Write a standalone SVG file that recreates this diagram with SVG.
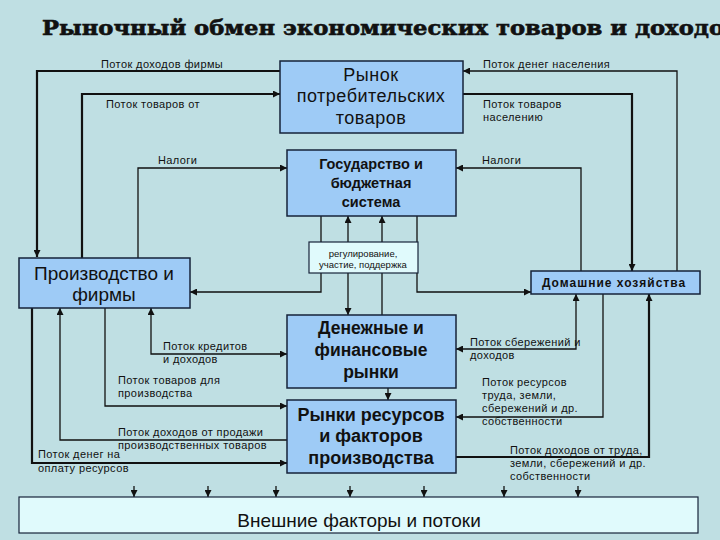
<svg xmlns="http://www.w3.org/2000/svg" width="720" height="540" viewBox="0 0 720 540">
<defs>
<style>
.box{fill:#9ecbf6;stroke:#16233a;stroke-width:1.5}
.lbox{fill:#e0fafc;stroke:#16233a;stroke-width:1.2}
.ln{fill:none;stroke:#111;stroke-width:1.3}
.tk{fill:none;stroke:#111;stroke-width:2.2}
.lab{font-family:"Liberation Sans",Arial,sans-serif;font-size:11px;letter-spacing:0.4px;fill:#111}
.bt{font-family:"Liberation Sans",Arial,sans-serif;fill:#111;text-anchor:middle}
</style>
<marker id="ah" viewBox="0 0 10 10" refX="10" refY="5" markerWidth="7" markerHeight="7" markerUnits="userSpaceOnUse" orient="auto-start-reverse">
<path d="M0,0 L10,5 L0,10 z" fill="#111"/>
</marker>
</defs>
<rect width="720" height="540" fill="#bfdfe3"/>
<text x="42" y="35" font-family="'DejaVu Serif',serif" font-weight="bold" font-size="20" textLength="682" lengthAdjust="spacingAndGlyphs" fill="#111" stroke="#111" stroke-width="0.6">Рыночный обмен экономических товаров и доходо</text>

<g id="connectors">
<path class="tk" d="M280,71 H37 V257" marker-end="url(#ah)"/>
<path class="tk" d="M82,258 V94 H280" marker-end="url(#ah)"/>
<path class="tk" d="M463,94 H632 V271" marker-end="url(#ah)"/>
<path class="tk" d="M32,308 V463 H287" marker-end="url(#ah)"/>
<path class="tk" d="M456,457 H649 V294" marker-end="url(#ah)"/>
<path class="ln" d="M138,258 V168 H287" marker-end="url(#ah)"/>
<path class="ln" d="M581,271 V168 H456" marker-end="url(#ah)"/>
<path class="ln" d="M677,271 V71 H463" marker-end="url(#ah)"/>
<path class="ln" d="M321,216 V292 H190" marker-end="url(#ah)"/>
<path class="ln" d="M417,216 V292 H531" marker-end="url(#ah)"/>
<path class="ln" d="M348,242 V216" marker-end="url(#ah)"/>
<path class="ln" d="M348,273 V315" marker-end="url(#ah)"/>
<path class="ln" d="M382,242 V216" marker-end="url(#ah)"/>
<path class="ln" d="M382,273 V315"/>
<path class="ln" d="M388,388 V400" marker-end="url(#ah)"/>
<path class="ln" d="M287,354 H151 V308" marker-start="url(#ah)" marker-end="url(#ah)"/>
<path class="ln" d="M105,308 V406 H287" marker-end="url(#ah)"/>
<path class="ln" d="M287,440 H60 V308" marker-end="url(#ah)"/>
<path class="ln" d="M456,349 H576 V294" marker-start="url(#ah)" marker-end="url(#ah)"/>
<path class="ln" d="M603,294 V417 H456" marker-end="url(#ah)"/>
<path class="ln" d="M134,486 V497" marker-end="url(#ah)"/>
<path class="ln" d="M208,486 V497" marker-end="url(#ah)"/>
<path class="ln" d="M276,486 V497" marker-end="url(#ah)"/>
<path class="ln" d="M350,486 V497" marker-end="url(#ah)"/>
<path class="ln" d="M424,486 V497" marker-end="url(#ah)"/>
<path class="ln" d="M504,486 V497" marker-end="url(#ah)"/>
<path class="ln" d="M578,486 V497" marker-end="url(#ah)"/>
</g>

<g id="labels">
<text class="lab" x="101" y="68">Поток доходов фирмы</text>
<text class="lab" x="106" y="108">Поток товаров от</text>
<text class="lab" x="158" y="164">Налоги</text>
<text class="lab" x="483" y="68">Поток денег населения</text>
<text class="lab" x="483" y="108">Поток товаров</text>
<text class="lab" x="483" y="121">населению</text>
<text class="lab" x="482" y="164">Налоги</text>
<text class="lab" x="163" y="350">Поток кредитов</text>
<text class="lab" x="163" y="363">и доходов</text>
<text class="lab" x="118" y="384">Поток товаров для</text>
<text class="lab" x="118" y="397">производства</text>
<text class="lab" x="118" y="436">Поток доходов от продажи</text>
<text class="lab" x="118" y="449">производственных товаров</text>
<text class="lab" x="38" y="458">Поток денег на</text>
<text class="lab" x="38" y="472">оплату ресурсов</text>
<text class="lab" x="470" y="346">Поток сбережений  и</text>
<text class="lab" x="470" y="359">доходов</text>
<text class="lab" x="482" y="386">Поток ресурсов</text>
<text class="lab" x="482" y="399">труда, земли,</text>
<text class="lab" x="482" y="412">сбережений и др.</text>
<text class="lab" x="482" y="425">собственности</text>
<text class="lab" x="510" y="454">Поток доходов от труда,</text>
<text class="lab" x="510" y="467">земли, сбережений и др.</text>
<text class="lab" x="510" y="480">собственности</text>
</g>

<g id="consumer-market">
<rect class="box" x="280" y="61" width="183" height="72"/>
<text class="bt" x="371" y="81" font-size="18" letter-spacing="0.5">Рынок</text>
<text class="bt" x="371" y="102" font-size="18" letter-spacing="0.5">потребительских</text>
<text class="bt" x="371" y="124" font-size="18" letter-spacing="0.5">товаров</text>
</g>

<g id="government">
<rect class="box" x="287" y="150" width="169" height="66"/>
<text class="bt" x="371" y="169" font-size="14.5" font-weight="bold">Государство и</text>
<text class="bt" x="371" y="188" font-size="14.5" font-weight="bold">бюджетная</text>
<text class="bt" x="371" y="207" font-size="14.5" font-weight="bold">система</text>
</g>

<g id="regulation">
<rect class="lbox" x="309" y="242" width="109" height="31"/>
<text class="bt" x="363" y="257" font-size="9.5">регулирование,</text>
<text class="bt" x="363" y="268" font-size="9.5">участие, поддержка</text>
</g>

<g id="production">
<rect class="box" x="19" y="258" width="171" height="50"/>
<text class="bt" x="104" y="280" font-size="19">Производство и</text>
<text class="bt" x="104" y="301" font-size="19">фирмы</text>
</g>

<g id="households">
<rect class="box" x="531" y="271" width="169" height="23"/>
<text class="bt" x="614" y="287" font-size="12" font-weight="bold" letter-spacing="1">Домашние хозяйства</text>
</g>

<g id="money-markets">
<rect class="box" x="287" y="315" width="169" height="73"/>
<text class="bt" x="371" y="334" font-size="17.5" font-weight="bold">Денежные и</text>
<text class="bt" x="371" y="356" font-size="17.5" font-weight="bold">финансовые</text>
<text class="bt" x="371" y="378" font-size="17.5" font-weight="bold">рынки</text>
</g>

<g id="resource-markets">
<rect class="box" x="287" y="400" width="169" height="73"/>
<text class="bt" x="371" y="421" font-size="18" font-weight="bold">Рынки ресурсов</text>
<text class="bt" x="371" y="442" font-size="18" font-weight="bold">и факторов</text>
<text class="bt" x="371" y="464" font-size="18" font-weight="bold">производства</text>
</g>

<g id="external">
<rect class="lbox" x="19" y="497" width="679" height="36"/>
<text class="bt" x="359" y="527" font-size="19">Внешние факторы и потоки</text>
</g>
</svg>
